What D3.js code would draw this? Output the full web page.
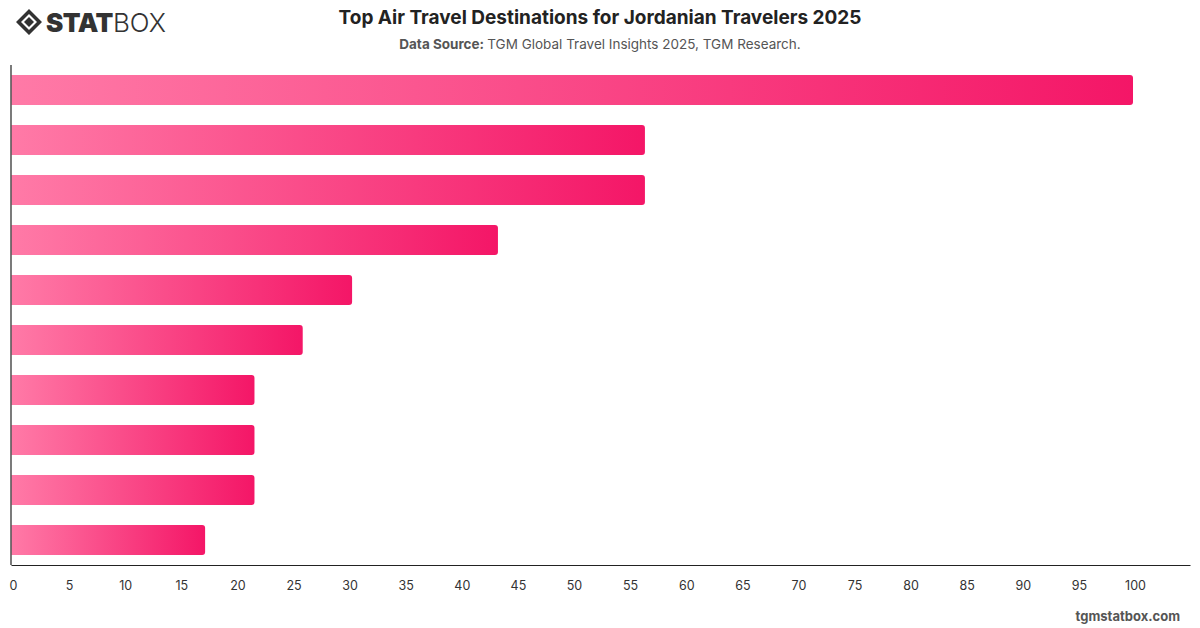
<!DOCTYPE html>
<html>
<head>
<meta charset="utf-8">
<script src="https://cdn.jsdelivr.net/npm/d3@7"></script>
<style>
  body { margin: 0; background: #fff; font-family: Inter, "Noto Sans", sans-serif; }
</style>
</head>
<body>
<div id="chart"></div>
<script>
// Data (categories have no visible labels)
const destinations = ["D1", "D2", "D3", "D4", "D5", "D6", "D7", "D8", "D9", "D10"];
const shares = [100, 56.5, 56.5, 43.4, 30.4, 26.0, 21.7, 21.7, 21.7, 17.3];
const tickLabels = [0, 5, 10, 15, 20, 25, 30, 35, 40, 45, 50, 55, 60, 65, 70, 75, 80, 85, 90, 95, 100];

const W = 1200, H = 628;
const margin = {top: 65, right: 10, bottom: 63, left: 11};

const svg = d3.select("#chart").append("svg")
  .attr("width", W).attr("height", H);

// gradient for the bars
const grad = svg.append("defs").append("linearGradient")
  .attr("id", "barGrad")
  .attr("x1", "0%").attr("x2", "100%").attr("y1", "0%").attr("y2", "0%");
grad.append("stop").attr("offset", "0%").attr("stop-color", "#ff7aa7");
grad.append("stop").attr("offset", "100%").attr("stop-color", "#f41667");

// header
svg.append("text")
  .attr("x", 600).attr("y", 24)
  .attr("text-anchor", "middle")
  .style("font-size", "19px").style("font-weight", 700).style("fill", "#222")
  .text("Top Air Travel Destinations for Jordanian Travelers 2025");

const sub = svg.append("text")
  .attr("x", 600).attr("y", 49)
  .attr("text-anchor", "middle")
  .style("font-size", "13.5px").style("fill", "#555");
sub.append("tspan").style("font-weight", 700).text("Data Source: ");
sub.append("tspan").text("TGM Global Travel Insights 2025, TGM Research.");

// logo
const logo = svg.append("g").attr("transform", "translate(16,9)");
logo.append("path")
  .attr("d", "M13,0 L26,13 L13,26 L0,13 Z M13,5 L21,13 L13,21 L5,13 Z")
  .attr("fill", "#333").attr("fill-rule", "evenodd");
logo.append("path")
  .attr("d", "M13,8 L18,13 L13,18 L8,13 Z").attr("fill", "#333");
const lt = logo.append("text").attr("x", 30).attr("y", 23)
  .style("font-size", "26px").style("fill", "#333");
lt.append("tspan").style("font-weight", 900).style("letter-spacing", "-0.5px").text("STAT");
lt.append("tspan").style("font-weight", 300).text("BOX");

// footer
svg.append("text")
  .attr("x", 1180).attr("y", 621)
  .attr("text-anchor", "end")
  .style("font-size", "13px").style("font-weight", 700).style("fill", "#555")
  .text("tgmstatbox.com");

// scales
const x = d3.scaleLinear()
  .domain([0, 105.08])
  .range([margin.left, W - margin.right]);

const y = d3.scaleBand()
  .domain(destinations)
  .range([margin.top, H - margin.bottom])
  .paddingInner(0.4)
  .paddingOuter(0.2);

// bars, rounded on the right end only
svg.selectAll(".bar")
  .data(destinations)
  .enter()
  .append("path")
    .attr("class", "bar")
    .attr("fill", "url(#barGrad)")
    .attr("d", function(d, i) {
      const x0 = x(0) + 0.5, x1 = x(shares[i]), y0 = y(d), h = y.bandwidth(), r = 3;
      return "M" + x0 + "," + y0 + "H" + (x1 - r) + "Q" + x1 + "," + y0 + " " + x1 + "," + (y0 + r) +
        "V" + (y0 + h - r) + "Q" + x1 + "," + (y0 + h) + " " + (x1 - r) + "," + (y0 + h) + "H" + x0 + "Z";
    });

// axes
svg.append("g")
  .attr("transform", "translate(0," + (H - margin.bottom) + ")")
  .call(d3.axisBottom(x).tickValues(tickLabels).tickSize(0).tickPadding(16).tickSizeOuter(0))
  .call(g => g.select(".domain").attr("stroke", "#222").attr("stroke-width", 1.2))
  .selectAll("text")
    .style("font-size", "12.5px").style("fill", "#333")
    .style("font-family", "Inter, 'Noto Sans', sans-serif")
    .attr("dx", "2px");

svg.append("line")
  .attr("x1", x(0)).attr("x2", x(0))
  .attr("y1", margin.top).attr("y2", H - margin.bottom)
  .attr("stroke", "#222").attr("stroke-width", 1.2);
</script>
</body>
</html>
